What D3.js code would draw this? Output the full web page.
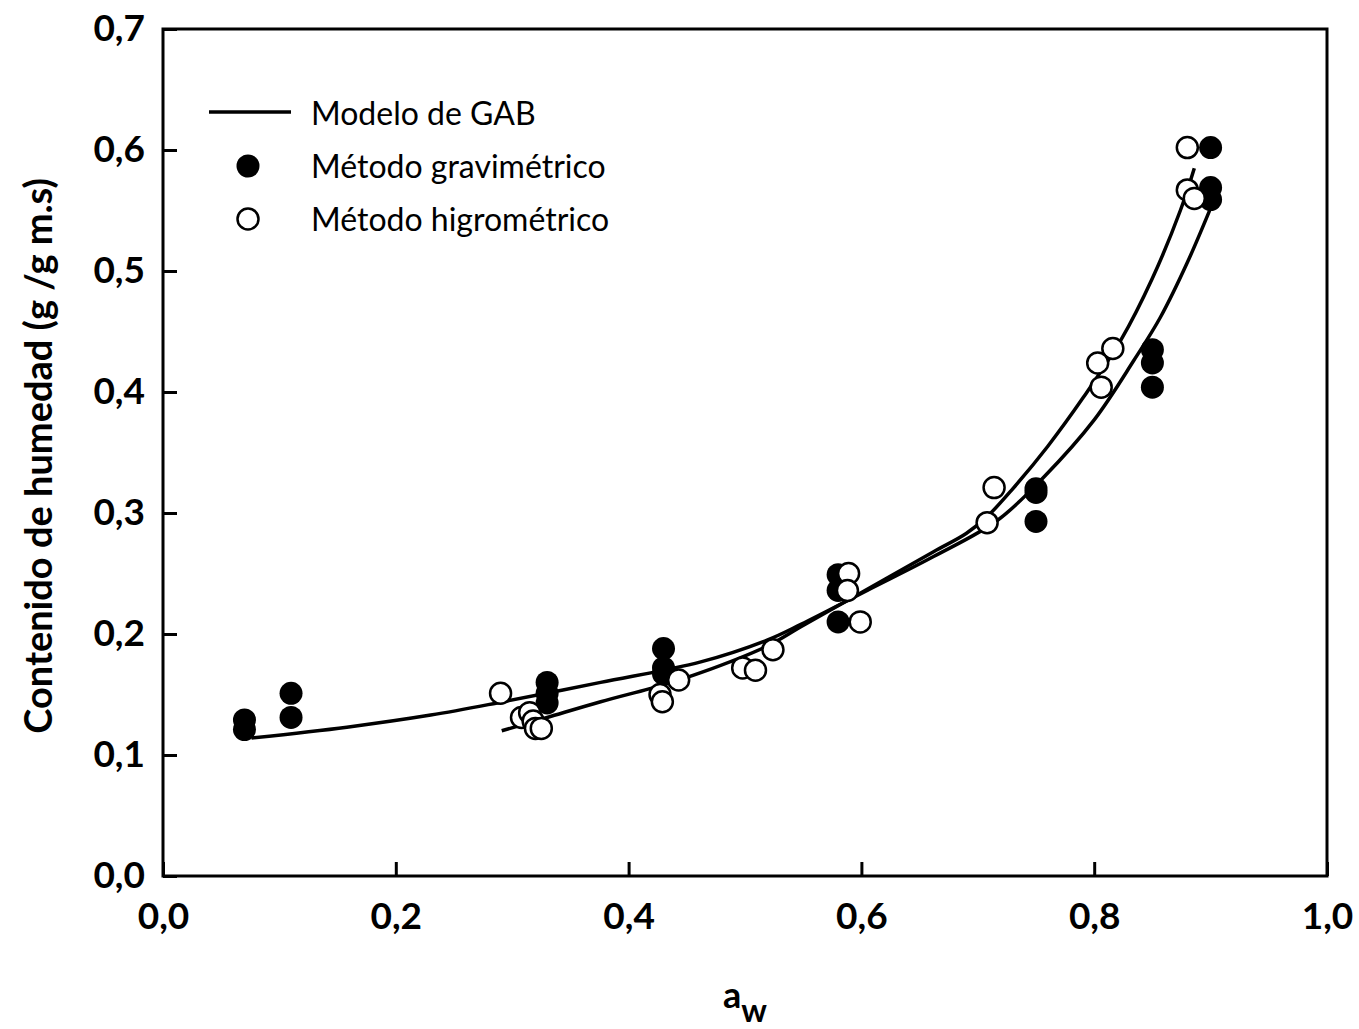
<!DOCTYPE html>
<html>
<head>
<meta charset="utf-8">
<script src="https://cdn.jsdelivr.net/npm/d3@7"></script>
<style>
  html, body { margin: 0; padding: 0; background: #fff; }
  svg { display: block; font-family: Lato, "Open Sans", sans-serif; }
</style>
</head>
<body>
<svg id="chart" width="1359" height="1029"></svg>
<script>
// Sorption isotherm: moisture content vs water activity
const xTicks = [0, 0.2, 0.4, 0.6, 0.8, 1.0];
const yTicks = [0, 0.1, 0.2, 0.3, 0.4, 0.5, 0.6, 0.7];

// Gravimetric method (filled markers)
const gravAw = [0.07, 0.07, 0.11, 0.11, 0.33, 0.33, 0.33, 0.43, 0.43, 0.43,
                0.58, 0.58, 0.58, 0.75, 0.75, 0.75, 0.85, 0.85, 0.85, 0.90, 0.90, 0.90];
const gravM  = [0.129, 0.121, 0.151, 0.131, 0.160, 0.151, 0.143, 0.188, 0.172, 0.167,
                0.249, 0.236, 0.210, 0.320, 0.317, 0.293, 0.435, 0.424, 0.404, 0.602, 0.569, 0.559];

// Hygrometric method (open markers)
const hygAw = [0.290, 0.308, 0.315, 0.318, 0.320, 0.325, 0.427, 0.429, 0.443,
               0.498, 0.509, 0.524, 0.589, 0.588, 0.599, 0.714, 0.708,
               0.816, 0.803, 0.806, 0.880, 0.880, 0.886];
const hygM  = [0.151, 0.131, 0.135, 0.128, 0.122, 0.122, 0.150, 0.144, 0.162,
               0.172, 0.170, 0.187, 0.250, 0.236, 0.210, 0.321, 0.292,
               0.436, 0.424, 0.404, 0.602, 0.567, 0.560];

// GAB model fit, gravimetric data
const gabGravAw = [0.076, 0.158, 0.230, 0.287, 0.376, 0.462, 0.519, 0.548, 0.605, 0.662, 0.717, 0.757, 0.80, 0.834, 0.857, 0.88, 0.903];
const gabGravM  = [0.114, 0.123, 0.133, 0.143, 0.160, 0.177, 0.195, 0.208, 0.236, 0.264, 0.294, 0.330, 0.377, 0.426, 0.462, 0.507, 0.559];

// GAB model fit, hygrometric data
const gabHygAw = [0.291, 0.33, 0.376, 0.43, 0.462, 0.519, 0.548, 0.605, 0.662, 0.69, 0.708, 0.73, 0.76, 0.791, 0.823, 0.85, 0.874, 0.886];
const gabHygM  = [0.120, 0.131, 0.144, 0.158, 0.168, 0.190, 0.206, 0.237, 0.268, 0.283, 0.297, 0.320, 0.355, 0.396, 0.443, 0.494, 0.550, 0.585];

const legendLabels = ["Modelo de GAB", "Método gravimétrico", "Método higrométrico"];

const svg = d3.select("#chart");
const plotL = 163, plotR = 1327, plotT = 29, plotB = 876;

const x = d3.scaleLinear().domain([0, 1]).range([plotL, plotR]);
const y = d3.scaleLinear().domain([0, 0.7]).range([plotB, plotT]);
const fmt = d => d3.format(".1f")(d).replace(".", ",");

// Axes with inward ticks
const xAxis = svg.append("g").attr("transform", `translate(0,${plotB})`)
  .call(d3.axisBottom(x).tickValues(xTicks).tickSizeInner(-14).tickSizeOuter(0).tickPadding(27).tickFormat(fmt));
const yAxis = svg.append("g").attr("transform", `translate(${plotL},0)`)
  .call(d3.axisLeft(y).tickValues(yTicks).tickSizeInner(-14).tickSizeOuter(0).tickPadding(18).tickFormat(fmt));
[xAxis, yAxis].forEach(g => {
  g.select(".domain").remove();
  g.selectAll(".tick line").attr("stroke", "#000").attr("stroke-width", 3);
  g.selectAll(".tick text").attr("fill", "#000").attr("font-size", 37).attr("font-weight", "bold")
    .attr("font-family", "Lato, sans-serif");
});
xAxis.selectAll(".tick text").attr("dy", "0.71em");

// Frame
svg.append("rect").attr("x", plotL).attr("y", plotT)
  .attr("width", plotR - plotL).attr("height", plotB - plotT)
  .attr("fill", "none").attr("stroke", "#000").attr("stroke-width", 3);

// Model curves
const line = d3.line().x(d => x(d[0])).y(d => y(d[1])).curve(d3.curveCatmullRom.alpha(0.5));
[[gabGravAw, gabGravM], [gabHygAw, gabHygM]].forEach(([a, m]) => {
  svg.append("path").datum(d3.zip(a, m)).attr("d", line)
    .attr("fill", "none").attr("stroke", "#000").attr("stroke-width", 3.5);
});

// Data points
const r = 11.5;
svg.append("g").selectAll("circle").data(d3.zip(gravAw, gravM)).join("circle")
  .attr("cx", d => x(d[0])).attr("cy", d => y(d[1])).attr("r", r).attr("fill", "#000");
svg.append("g").selectAll("circle").data(d3.zip(hygAw, hygM)).join("circle")
  .attr("cx", d => x(d[0])).attr("cy", d => y(d[1])).attr("r", r - 1)
  .attr("fill", "#fff").attr("stroke", "#000").attr("stroke-width", 2.5);

// Legend
const lg = svg.append("g");
lg.append("line").attr("x1", 209).attr("x2", 291).attr("y1", 112).attr("y2", 112)
  .attr("stroke", "#000").attr("stroke-width", 3.5);
lg.append("circle").attr("cx", 248).attr("cy", 166).attr("r", r).attr("fill", "#000");
lg.append("circle").attr("cx", 248).attr("cy", 219).attr("r", r - 1)
  .attr("fill", "#fff").attr("stroke", "#000").attr("stroke-width", 2.5);
lg.selectAll("text").data(legendLabels).join("text")
  .attr("x", 311).attr("y", (d, i) => 125 + i * 53)
  .attr("font-size", 32).attr("fill", "#000").text(d => d);

// Axis titles
svg.append("text").attr("transform", "translate(52,456) rotate(-90)")
  .attr("text-anchor", "middle").attr("font-size", 38).attr("font-weight", "bold")
  .text("Contenido de humedad (g /g m.s)");
const xt = svg.append("text").attr("x", 723).attr("y", 1008)
  .attr("font-size", 36).attr("font-weight", "bold");
xt.append("tspan").text("a");
xt.append("tspan").attr("dy", 14).attr("font-size", 32).text("w");
</script>
</body>
</html>
